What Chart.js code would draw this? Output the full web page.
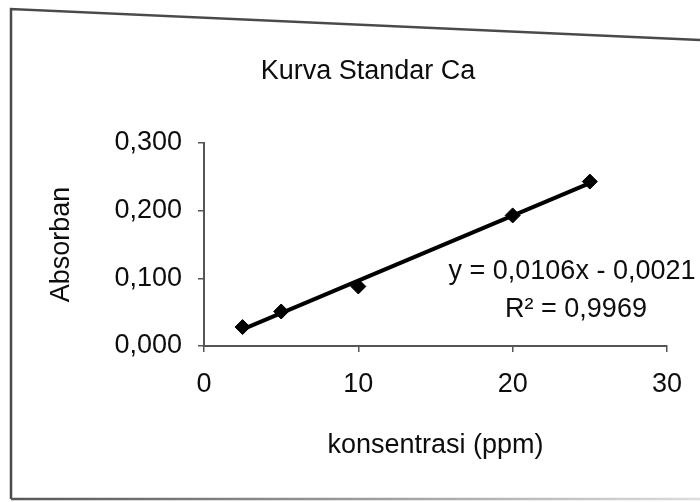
<!DOCTYPE html>
<html>
<head>
<meta charset="utf-8">
<script src="https://cdn.jsdelivr.net/npm/chart.js@4/dist/chart.umd.min.js"></script>
<style>
  html, body { margin: 0; padding: 0; background: #fff; }
  #wrap { width: 700px; height: 502px; position: relative; }
</style>
</head>
<body>
<div id="wrap"><canvas id="kurvaChart" width="700" height="502"></canvas></div>
<script>
// data kurva standar Ca
const konsentrasi = [2.5, 5, 10, 20, 25];
const absorban = [0.028, 0.051, 0.088, 0.193, 0.243];
const xTicks = [0, 10, 20, 30];
const yTicks = [0, 0.1, 0.2, 0.3];
const persamaan = ["y = 0,0106x - 0,0021", "R\u00b2 = 0,9969"];

const FONT = "'Liberation Sans', Arial, sans-serif";
const ink = "#0d0d0d";

// garis trend linear (kuadrat terkecil) dari titik pertama ke titik terakhir
function trendLinear(xs, ys) {
  const n = xs.length;
  const mx = xs.reduce((a, b) => a + b, 0) / n;
  const my = ys.reduce((a, b) => a + b, 0) / n;
  let sxy = 0, sxx = 0;
  xs.forEach((x, i) => {
    sxy += (x - mx) * (ys[i] - my);
    sxx += (x - mx) * (x - mx);
  });
  const m = sxy / sxx;
  const c = my - m * mx;
  const x0 = xs[0], x1 = xs[n - 1];
  return [{ x: x0, y: m * x0 + c }, { x: x1, y: m * x1 + c }];
}
const trendData = trendLinear(konsentrasi, absorban);

// bingkai hasil scan + judul + persamaan
const framePlugin = {
  id: "frame",
  beforeDraw(chart) {
    const ctx = chart.ctx;
    ctx.save();
    ctx.fillStyle = "#fff";
    ctx.fillRect(0, 0, chart.width, chart.height);
    ctx.strokeStyle = "#4a4a4a";
    ctx.lineWidth = 2.5;
    ctx.beginPath();
    ctx.moveTo(700, 40);
    ctx.lineTo(11, 9);
    ctx.lineTo(11, 499);
    ctx.stroke();
    const grad = ctx.createLinearGradient(0, 0, 700, 0);
    grad.addColorStop(0, "#555");
    grad.addColorStop(1, "#ddd");
    ctx.strokeStyle = grad;
    ctx.beginPath();
    ctx.moveTo(11, 499);
    ctx.lineTo(700, 499);
    ctx.stroke();
    ctx.restore();
  },
  afterDraw(chart) {
    const ctx = chart.ctx;
    ctx.save();
    ctx.fillStyle = ink;
    ctx.textAlign = "center";
    ctx.textBaseline = "middle";
    ctx.font = "27px " + FONT;
    ctx.fillText("Kurva Standar Ca", 368, 72);
    ctx.fillText(persamaan[0], 572, 272);
    ctx.fillText(persamaan[1], 576, 310);
    ctx.restore();
  },
};

new Chart(document.getElementById("kurvaChart"), {
  type: "scatter",
  data: {
    datasets: [
      {
        label: "Absorban",
        data: konsentrasi.map((k, i) => ({ x: k, y: absorban[i] })),
        backgroundColor: "#000",
        borderColor: "#000",
        pointStyle: "rectRot",
        pointRadius: 7.5,
        order: 1,
      },
      {
        type: "line",
        label: "Linear",
        data: trendData,
        borderColor: "#000",
        borderWidth: 4,
        pointRadius: 0,
        fill: false,
        order: 2,
      },
    ],
  },
  options: {
    responsive: false,
    animation: false,
    layout: { padding: { top: 143, right: 33, bottom: 0, left: 0 } },
    plugins: {
      legend: { display: false },
      tooltip: { enabled: false },
      title: { display: false },
    },
    scales: {
      x: {
        type: "linear",
        min: 0,
        max: 30,
        afterFit: (scale) => { scale.height = 156; },
        afterBuildTicks: (scale) => { scale.ticks = xTicks.map((v) => ({ value: v })); },
        grid: { drawOnChartArea: false, tickLength: 6, color: "#555", lineWidth: 1.5 },
        border: { color: "#555", width: 2 },
        ticks: { color: ink, padding: 16, font: { size: 27, family: FONT } },
        title: {
          display: true,
          text: "konsentrasi (ppm)",
          color: ink,
          font: { size: 27, family: FONT },
          padding: { top: 0, bottom: 40 },
        },
      },
      y: {
        min: 0,
        max: 0.3,
        afterFit: (scale) => { scale.width = 204; },
        afterBuildTicks: (scale) => { scale.ticks = yTicks.map((v) => ({ value: v })); },
        grid: { drawOnChartArea: false, tickLength: 6, color: "#555", lineWidth: 1.5 },
        border: { color: "#555", width: 2 },
        ticks: {
          color: ink,
          padding: 16,
          font: { size: 27, family: FONT },
          callback: (v) => v.toFixed(3).replace(".", ","),
        },
        title: {
          display: true,
          text: "Absorban",
          color: ink,
          font: { size: 27, family: FONT },
          padding: { top: 45, bottom: 0 },
        },
      },
    },
  },
  plugins: [framePlugin],
});
</script>
</body>
</html>
